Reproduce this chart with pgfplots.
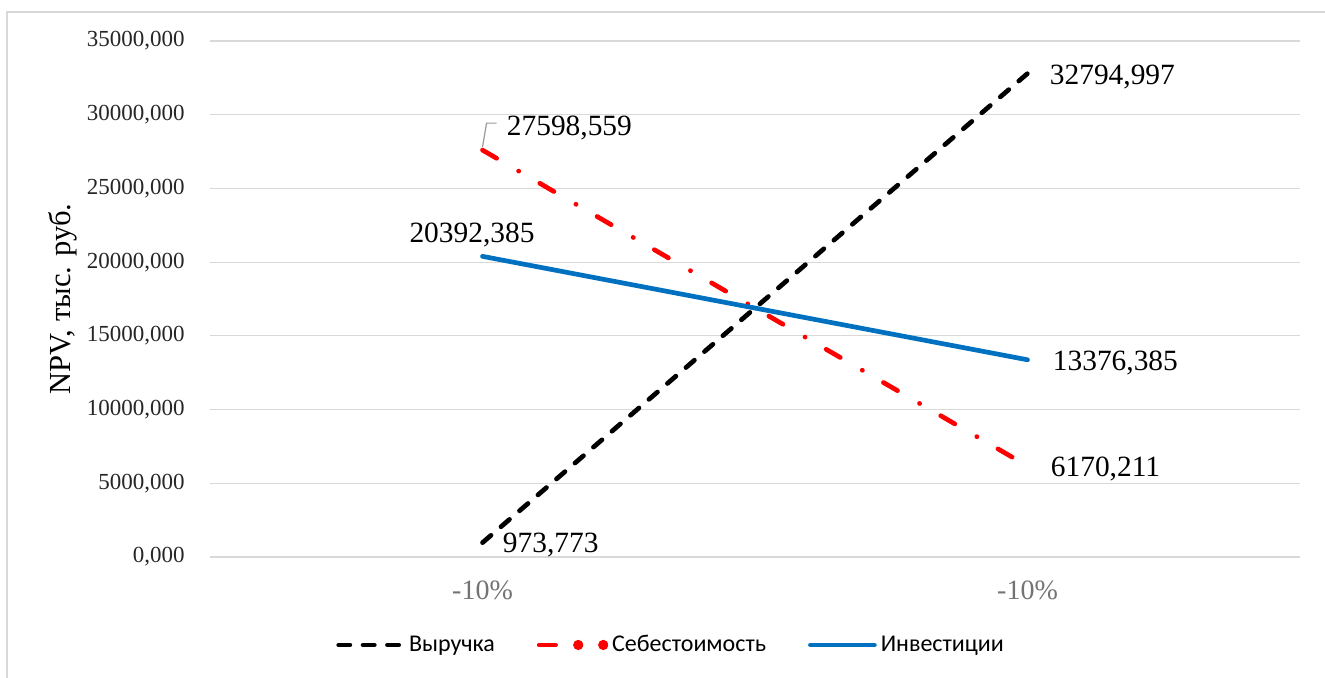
\documentclass[border=0pt]{standalone}
\usepackage{fontspec}
\setmainfont{Liberation Serif}
\newfontfamily\calibri{Carlito}
\usepackage{pgfplots}
\pgfplotsset{compat=1.18}
\definecolor{gridgray}{HTML}{D9D9D9}
\definecolor{invblue}{HTML}{0070C0}
\definecolor{xgray}{HTML}{737373}
\begin{document}
\begin{tikzpicture}
\useasboundingbox (0,0) rectangle (662.5pt,339pt);
\draw[gridgray, line width=0.6pt] (3.5pt,-5pt) -- (3.5pt,333pt) -- (670pt,333pt);
\begin{axis}[
  at={(105pt,60.5pt)}, anchor=south west,
  scale only axis, width=545pt, height=258pt,
  xmin=-0.5, xmax=1.5, ymin=0, ymax=35000,
  clip=false, scaled y ticks=false,
  xtick={0,1}, xticklabels={-10\%,-10\%},
  ytick={0,5000,10000,15000,20000,25000,30000,35000},
  yticklabels={{0,000},{5000,000},{10000,000},{15000,000},{20000,000},{25000,000},{30000,000},{35000,000}},
  axis line style={draw=none}, major tick length=0pt,
  ymajorgrids, grid style={color=gridgray, line width=0.6pt},
  yticklabel style={font=\fontsize{11.5}{13}\selectfont, color=black!85, inner sep=0pt, anchor=east, xshift=-12.5pt},
  xticklabel style={font=\fontsize{14}{16}\selectfont, color=xgray, inner sep=0pt, anchor=base, yshift=-21.5pt},
  ylabel={NPV, тыс. руб.},
  ylabel style={font=\fontsize{15.3}{18}\selectfont, at={(axis description cs:-0.1284,0.5)}, anchor=base, rotate=0},
  legend columns=3,
  legend style={draw=none, fill=none, at={(axis description cs:0.4239,-0.1705)}, anchor=center,
    font=\calibri\fontsize{12}{14}\selectfont, inner sep=0pt,
    /tikz/every even column/.style={column sep=19pt}},
  legend image code/.code={\draw[#1] (0pt,0pt) -- (32pt,0pt);},
]
\addplot[black, line width=2.35pt, line cap=round, dash pattern=on 5.6pt off 6.6pt]
  coordinates {(0,973.773) (1,32794.997)};
\addlegendentry{Выручка}
\addplot[red, line width=2.35pt, line cap=round, dash pattern=on 8.15pt off 12.7pt on 0.1pt off 12.15pt,
  legend image code/.code={
    \draw[red, line width=2.35pt, line cap=round] (0pt,0pt) -- (10pt,0pt);
    \fill[red] (19.5pt,0pt) circle (1.3pt);
    \fill[red] (32pt,0pt) circle (1.3pt);}]
  coordinates {(0,27598.559) (1,6170.211)};
\addlegendentry{Себестоимость}
\addplot[invblue, line width=2.35pt, line cap=round]
  coordinates {(0,20392.385) (1,13376.385)};
\addlegendentry{Инвестиции}
\begin{scope}[every node/.style={inner sep=0pt, font=\fontsize{14.7}{17}\selectfont}]
\node[anchor=base west, xshift=10pt, yshift=-4.9pt] at (axis cs:0,973.773) {973,773};
\node[anchor=base west, xshift=11pt, yshift=-5.6pt] at (axis cs:1,32794.997) {32794,997};
\node[anchor=base west, xshift=12.5pt, yshift=-5.5pt] at (axis cs:1,13376.385) {13376,385};
\node[anchor=base west, xshift=11.5pt, yshift=-5.1pt] at (axis cs:1,6170.211) {6170,211};
\node[anchor=base west, xshift=12pt, yshift=7.1pt] at (axis cs:0,27598.559) {27598,559};
\node[anchor=base, xshift=-5.25pt, yshift=6.8pt] at (axis cs:0,20392.385) {20392,385};
\end{scope}
\draw[black!40, line width=0.6pt] ([yshift=1.5pt]axis cs:0,27598.559) -- ++(2pt,12pt) -- ++(5pt,0pt);
\end{axis}
\end{tikzpicture}
\end{document}
